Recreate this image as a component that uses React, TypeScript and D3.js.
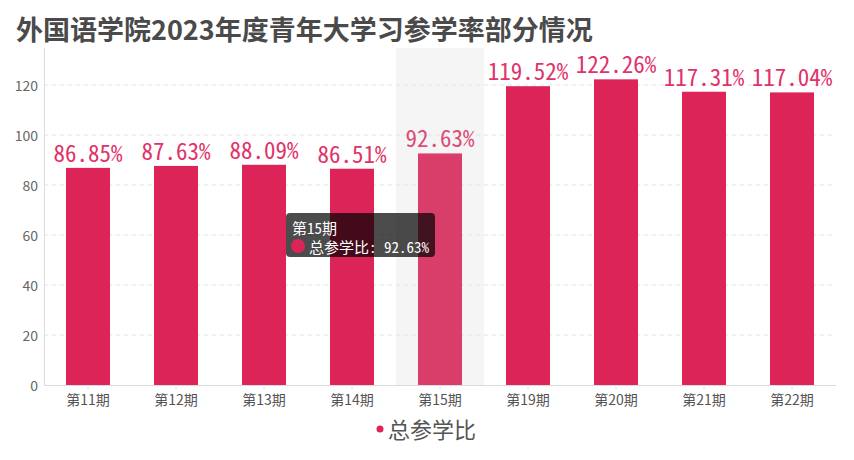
import React from "react";
import * as d3 from "d3";

const categories = ["第11期", "第12期", "第13期", "第14期", "第15期", "第19期", "第20期", "第21期", "第22期"];
const values = [86.85, 87.63, 88.09, 86.51, 92.63, 119.52, 122.26, 117.31, 117.04];
const yTicks = [0, 20, 40, 60, 80, 100, 120];
const seriesName = "总参学比";
const titleText = "外国语学院2023年度青年大学习参学率部分情况";
const highlightIndex = 4;

const W = 854;
const H = 460;
const left = 44;
const right = 836;
const top = 48;
const bottom = 385;

const CJK = '"Noto Sans CJK SC", "Noto Sans", sans-serif';
const MONO = '"Noto Sans Mono CJK SC", "Noto Sans CJK SC", monospace';
const barColor = "#dc2459";
const barHi = "#d93d69";
const labelColor = "#e0336a";

export default function App() {
  const x = d3.scaleBand<string>().domain(categories).range([left, right]).paddingInner(0).paddingOuter(0);
  const y = d3.scaleLinear().domain([0, 134.8]).range([bottom, top]);
  const bw = x.bandwidth();
  const barW = bw * 0.5;
  const hiCat = categories[highlightIndex];
  const hiVal = values[highlightIndex];

  return (
    <svg width={W} height={H} style={{ position: "absolute", left: 0, top: 0, background: "#fff" }}>
      <text x={16} y={28} dominantBaseline="central" fontFamily={CJK} fontWeight="bold" fontSize={27} fill="#4a4a4a">
        {titleText}
      </text>

      {/* shadow band for hovered category */}
      <rect x={x(hiCat)!} y={top} width={bw} height={bottom - top} fill="#f5f5f5" />

      {/* grid lines */}
      {yTicks.filter((t) => t !== 0).map((t) => (
        <line key={t} x1={left} x2={right} y1={y(t)} y2={y(t)} stroke="#e3e3e3" strokeDasharray="4,4" />
      ))}

      {/* y axis */}
      <line x1={left + 0.5} x2={left + 0.5} y1={top} y2={bottom} stroke="#dcdcdc" />
      {yTicks.map((t) => (
        <text key={t} x={38} y={y(t)} textAnchor="end" dominantBaseline="central" fontFamily={CJK} fontSize={14} fill="#666">
          {t}
        </text>
      ))}

      {/* bars */}
      {values.map((v, i) => {
        const c = categories[i];
        const bx = x(c)! + (bw - barW) / 2;
        return (
          <rect key={c} x={bx} y={y(v)} width={barW} height={bottom - y(v)} fill={i === highlightIndex ? barHi : barColor} />
        );
      })}

      {/* value labels */}
      {values.map((v, i) => {
        const c = categories[i];
        return (
          <text key={c} x={x(c)! + bw / 2} y={y(v) - 6} textAnchor="middle" fontFamily={MONO} fontWeight={300} fontSize={23} fill={i === highlightIndex ? "#e04a76" : labelColor}>
            {v.toFixed(2) + "%"}
          </text>
        );
      })}

      {/* x axis */}
      <line x1={left} x2={right} y1={bottom + 0.5} y2={bottom + 0.5} stroke="#dcdcdc" />
      {categories.map((c) => (
        <g key={c}>
          <line x1={x(c)! + bw / 2} x2={x(c)! + bw / 2} y1={bottom} y2={bottom + 4} stroke="#dcdcdc" />
          <text x={x(c)! + bw / 2} y={399} textAnchor="middle" dominantBaseline="central" fontFamily={CJK} fontSize={14} fill="#555">
            {c}
          </text>
        </g>
      ))}

      {/* legend */}
      <circle cx={380} cy={429} r={3.5} fill={barColor} />
      <text x={388} y={428} dominantBaseline="central" fontFamily={CJK} fontSize={22} fill="#555">
        {seriesName}
      </text>

      {/* tooltip */}
      <g>
        <rect x={286} y={213} width={149} height={44} rx={4} fill="rgba(0,0,0,0.7)" />
        <text x={292} y={227} dominantBaseline="central" fontFamily={MONO} fontSize={15} fill="#fff">
          {hiCat}
        </text>
        <circle cx={298} cy={246} r={7} fill={barColor} />
        <text x={309} y={246} dominantBaseline="central" fontFamily={MONO} fontSize={15} fill="#fff">
          {seriesName + ": " + hiVal.toFixed(2) + "%"}
        </text>
      </g>
    </svg>
  );
}
